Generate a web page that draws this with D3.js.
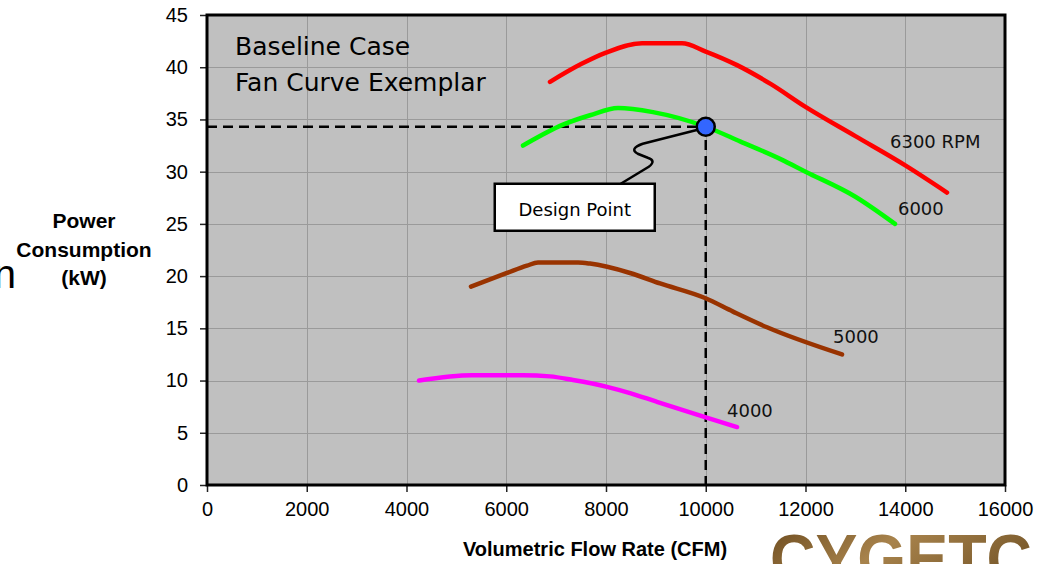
<!DOCTYPE html>
<html>
<head>
<meta charset="utf-8">
<script src="https://cdn.jsdelivr.net/npm/d3@7"></script>
<style>
  html, body { margin: 0; padding: 0; background: #fff; }
  svg { display: block; }
</style>
</head>
<body>
<div id="chart"></div>
<script>
// fan curves: flow (CFM) vs power (kW)
const seriesNames = ['6300 RPM', '6000', '5000', '4000'];

const flow6300 = [6877, 7500, 8000, 8722, 9524, 10000, 10627, 11300, 12000, 13000, 14000, 14837];
const power6300 = [38.6, 40.3, 41.4, 42.3, 42.3, 41.5, 40.2, 38.4, 36.2, 33.4, 30.6, 28.0];

const flow6000 = [6336, 7138, 7679, 8241, 8942, 10000, 10687, 11500, 12000, 13000, 13794];
const power6000 = [32.5, 34.5, 35.4, 36.1, 35.7, 34.3, 32.9, 31.2, 30.0, 27.6, 25.0];

const flow5000 = [5293, 6015, 6416, 6637, 7439, 7679, 8481, 9083, 9985, 10547, 11228, 12732];
const power5000 = [19.0, 20.3, 21.0, 21.3, 21.3, 21.2, 20.3, 19.3, 17.9, 16.6, 15.1, 12.5];

const flow4000 = [4251, 5313, 6336, 6877, 7339, 8020, 8481, 9000, 9985, 10627];
const power4000 = [10.0, 10.5, 10.5, 10.4, 10.05, 9.4, 8.8, 8.0, 6.5, 5.55];

const xTicks = [0, 2000, 4000, 6000, 8000, 10000, 12000, 14000, 16000];
const yTicks = [0, 5, 10, 15, 20, 25, 30, 35, 40, 45];

const designFlow = 10000;
const designPower = 34.3;

const series = [
  { name: seriesNames[0], flow: flow6300, power: power6300 },
  { name: seriesNames[1], flow: flow6000, power: power6000 },
  { name: seriesNames[2], flow: flow5000, power: power5000 },
  { name: seriesNames[3], flow: flow4000, power: power4000 },
];

// styling (kept apart from the values)
const COLORS = ['#ff0000', '#00ff00', '#993300', '#ff00ff'];
const LABEL_OFFSET = [[-57, -45], [3, -9], [-9, -11], [-10, -10]];
const W = 1038;
const H = 564;
const plot = { left: 207, right: 1005, top: 15, bottom: 485 };

const svg = d3.select('#chart').append('svg')
  .attr('width', W)
  .attr('height', H);

const x = d3.scaleLinear().domain([0, 16000]).range([plot.left, plot.right]);
const y = d3.scaleLinear().domain([0, 45]).range([plot.bottom, plot.top]);

// plot background
svg.append('rect')
  .attr('x', plot.left)
  .attr('y', plot.top)
  .attr('width', plot.right - plot.left)
  .attr('height', plot.bottom - plot.top)
  .attr('fill', '#c0c0c0');

// grid
const grid = svg.append('g').attr('stroke', '#9a9a9a').attr('stroke-width', 1);
grid.selectAll('.gx')
  .data(xTicks.slice(1, -1))
  .join('line')
  .attr('x1', (d) => Math.round(x(d)) + 0.5)
  .attr('x2', (d) => Math.round(x(d)) + 0.5)
  .attr('y1', plot.top)
  .attr('y2', plot.bottom);
grid.selectAll('.gy')
  .data(yTicks.slice(1, -1))
  .join('line')
  .attr('y1', (d) => Math.round(y(d)) + 0.5)
  .attr('y2', (d) => Math.round(y(d)) + 0.5)
  .attr('x1', plot.left)
  .attr('x2', plot.right);

// axes
const tickFont = '20px "Liberation Sans", Arial, sans-serif';

const xAxis = svg.append('g')
  .attr('transform', `translate(0,${plot.bottom})`)
  .call(d3.axisBottom(x).tickValues(xTicks).tickFormat(d3.format('d')).tickSize(7).tickPadding(10).tickSizeOuter(0));
xAxis.select('.domain').remove();
xAxis.selectAll('line').attr('stroke', '#222').attr('stroke-width', 1.5);
xAxis.selectAll('text').style('font', tickFont).attr('fill', '#000');

const yAxis = svg.append('g')
  .attr('transform', `translate(${plot.left},0)`)
  .call(d3.axisLeft(y).tickValues(yTicks).tickSize(7).tickPadding(12).tickSizeOuter(0));
yAxis.select('.domain').remove();
yAxis.selectAll('line').attr('stroke', '#222').attr('stroke-width', 1.5);
yAxis.selectAll('text').style('font', tickFont).attr('fill', '#000');

// plot border
svg.append('rect')
  .attr('x', plot.left)
  .attr('y', plot.top)
  .attr('width', plot.right - plot.left)
  .attr('height', plot.bottom - plot.top)
  .attr('fill', 'none')
  .attr('stroke', '#000')
  .attr('stroke-width', 3);

// dashed design lines
const dp = { x: x(designFlow), y: y(designPower) };
svg.append('path')
  .attr('d', `M${x(0)},${dp.y}H${dp.x}V${y(0)}`)
  .attr('fill', 'none')
  .attr('stroke', '#000')
  .attr('stroke-width', 2.5)
  .attr('stroke-dasharray', '10 6');

// curves
const line = d3.line()
  .x((d) => x(d[0]))
  .y((d) => y(d[1]))
  .curve(d3.curveMonotoneX);

svg.append('g').selectAll('path')
  .data(series)
  .join('path')
  .attr('d', (s) => line(d3.zip(s.flow, s.power)))
  .attr('fill', 'none')
  .attr('stroke', (s, i) => COLORS[i])
  .attr('stroke-width', 4.5)
  .attr('stroke-linecap', 'round')
  .attr('stroke-linejoin', 'round');

// curve labels, anchored at each curve's last point
svg.append('g').selectAll('text')
  .data(series)
  .join('text')
  .attr('x', (s, i) => x(s.flow[s.flow.length - 1]) + LABEL_OFFSET[i][0])
  .attr('y', (s, i) => y(s.power[s.power.length - 1]) + LABEL_OFFSET[i][1])
  .style('font', '18px "DejaVu Sans", Tahoma, sans-serif')
  .attr('fill', '#111')
  .text((s) => s.name);

// callout squiggle
svg.append('path')
  .attr('transform', `translate(${dp.x},${dp.y})`)
  .attr('d', 'M-85,57 L-57,40 Q-49,34 -58,31 L-68,27 Q-77,22 -63,17 L-8,3')
  .attr('fill', 'none')
  .attr('stroke', '#000')
  .attr('stroke-width', 2.5);

// design point marker
svg.append('circle')
  .attr('cx', dp.x)
  .attr('cy', dp.y)
  .attr('r', 9)
  .attr('fill', '#3366ff')
  .attr('stroke', '#000')
  .attr('stroke-width', 2.5);

// callout box
const box = svg.append('g').attr('transform', `translate(${dp.x - 211},${dp.y + 57})`);
box.append('rect')
  .attr('width', 160)
  .attr('height', 47)
  .attr('fill', '#fff')
  .attr('stroke', '#000')
  .attr('stroke-width', 2.5);
box.append('text')
  .attr('x', 80)
  .attr('y', 32)
  .attr('text-anchor', 'middle')
  .style('font', '18px "DejaVu Sans", Tahoma, sans-serif')
  .text('Design Point');

// title inside the plot
const titleFont = '25px "DejaVu Sans", Tahoma, sans-serif';
svg.append('text').attr('x', 235).attr('y', 55).style('font', titleFont).text('Baseline Case');
svg.append('text').attr('x', 235).attr('y', 91).style('font', titleFont).text('Fan Curve Exemplar');

// axis titles
const yTitle = svg.append('text')
  .attr('text-anchor', 'middle')
  .style('font', 'bold 21px "Liberation Sans", Arial, sans-serif');
['Power', 'Consumption', '(kW)'].forEach((t, i) => {
  yTitle.append('tspan').attr('x', 84).attr('y', 228 + i * 28.5).text(t);
});

svg.append('text')
  .attr('x', 595)
  .attr('y', 556)
  .attr('text-anchor', 'middle')
  .style('font', 'bold 20px "Liberation Sans", Arial, sans-serif')
  .text('Volumetric Flow Rate (CFM)');

// stray glyph cut off at the left edge
svg.append('text')
  .attr('x', 16)
  .attr('y', 288)
  .attr('text-anchor', 'end')
  .style('font', '40px "Liberation Sans", Arial, sans-serif')
  .text('n');

// logo cut off at the bottom right
const grad = svg.append('defs').append('linearGradient')
  .attr('id', 'logoGrad')
  .attr('x1', 0).attr('x2', 1).attr('y1', 0).attr('y2', 0.4);
grad.append('stop').attr('offset', '0%').attr('stop-color', '#6b4a1e');
grad.append('stop').attr('offset', '50%').attr('stop-color', '#a8834c');
grad.append('stop').attr('offset', '100%').attr('stop-color', '#7a5a2c');
svg.append('text')
  .attr('x', 770)
  .attr('y', 582)
  .attr('textLength', 262)
  .attr('lengthAdjust', 'spacingAndGlyphs')
  .style('font', 'bold 68px "Liberation Sans", Arial, sans-serif')
  .attr('fill', 'url(#logoGrad)')
  .text('CYGETC');
</script>
</body>
</html>
